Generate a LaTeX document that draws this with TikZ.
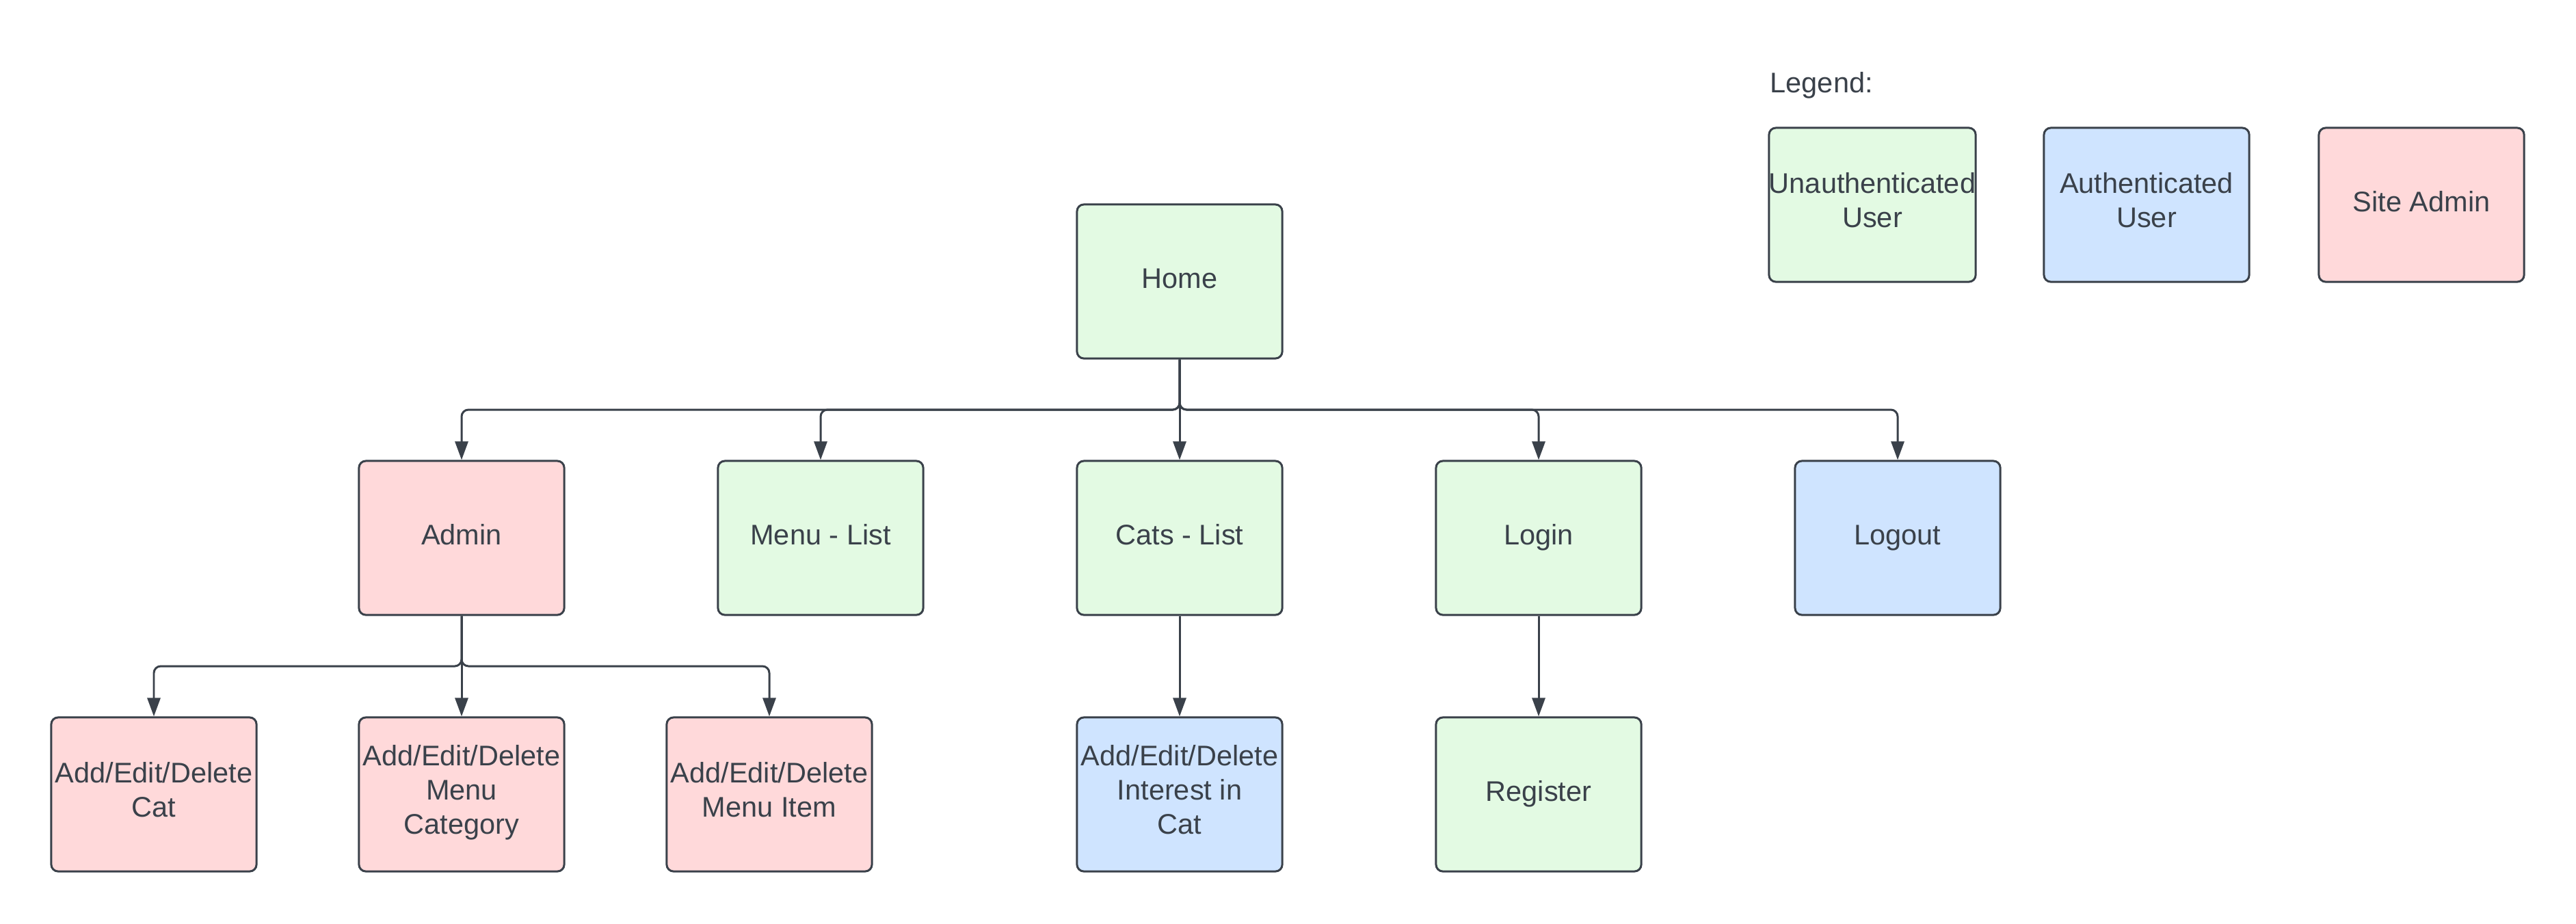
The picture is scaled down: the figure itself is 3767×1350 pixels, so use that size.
\documentclass[tikz,border=0pt]{standalone}
\usepackage{fontspec}
\setmainfont{Liberation Sans}
\usetikzlibrary{arrows.meta}
\definecolor{ink}{HTML}{3A414A}
\definecolor{fgreen}{HTML}{E3FAE3}
\definecolor{fblue}{HTML}{CFE4FF}
\definecolor{fred}{HTML}{FFD9DA}
\tikzset{
  pagebox/.style={draw=ink, line width=0.85pt, rounded corners=0.1cm,
    minimum width=3cm, minimum height=2.25cm, inner sep=0pt, align=center,
    text=ink, font=\fontsize{11.8}{14.2}\selectfont,
    execute at begin node=\strut, execute at end node=\strut},
  unauth/.style={pagebox, fill=fgreen},
  auth/.style={pagebox, fill=fblue},
  siteadm/.style={pagebox, fill=fred},
  link/.style={draw=ink, line width=0.85pt, rounded corners=0.1cm,
    -{Triangle[length=0.27cm, width=0.19cm]}}
}
\begin{document}
\begin{tikzpicture}[x=0.01cm, y=-0.01cm]
\useasboundingbox[fill=white] (0,0) rectangle (3767,1350);

% legend
\node[anchor=west, inner sep=0pt, text=ink, font=\fontsize{11.8}{14.2}\selectfont] (legend) at (2588,125) {Legend:};
\node[unauth] (lg1) at (2738,299.5) {Unauthenticated\\User};
\node[auth] (lg2) at (3139,299.5) {Authenticated\\User};
\node[siteadm] (lg3) at (3541,299.5) {Site Admin};

% top
\node[unauth] (home) at (1725,411.5) {Home};

% middle row
\node[siteadm] (admin) at (675,786.5) {Admin};
\node[unauth] (menu) at (1200,786.5) {Menu - List};
\node[unauth] (cats) at (1725,786.5) {Cats - List};
\node[unauth] (login) at (2250,786.5) {Login};
\node[auth] (logout) at (2775,786.5) {Logout};

% bottom row
\node[siteadm] (aecat) at (225,1161.5) {Add/Edit/Delete\\Cat};
\node[siteadm] (aemc) at (675,1161.5) {Add/Edit/Delete\\Menu\\Category};
\node[siteadm] (aemi) at (1125,1161.5) {Add/Edit/Delete\\Menu Item};
\node[auth] (aeint) at (1725,1161.5) {Add/Edit/Delete\\Interest in\\Cat};
\node[unauth] (register) at (2250,1161.5) {Register};

% junctions
\coordinate (j1) at (1725,599);
\coordinate (j2) at (675,974);

\draw[link] (home.south) -- (j1) -| (admin.north);
\draw[link] (home.south) -- (j1) -| (menu.north);
\draw[link] (home.south) -- (cats.north);
\draw[link] (home.south) -- (j1) -| (login.north);
\draw[link] (home.south) -- (j1) -| (logout.north);

\draw[link] (admin.south) -- (j2) -| (aecat.north);
\draw[link] (admin.south) -- (aemc.north);
\draw[link] (admin.south) -- (j2) -| (aemi.north);

\draw[link] (cats.south) -- (aeint.north);
\draw[link] (login.south) -- (register.north);
\end{tikzpicture}
\end{document}
